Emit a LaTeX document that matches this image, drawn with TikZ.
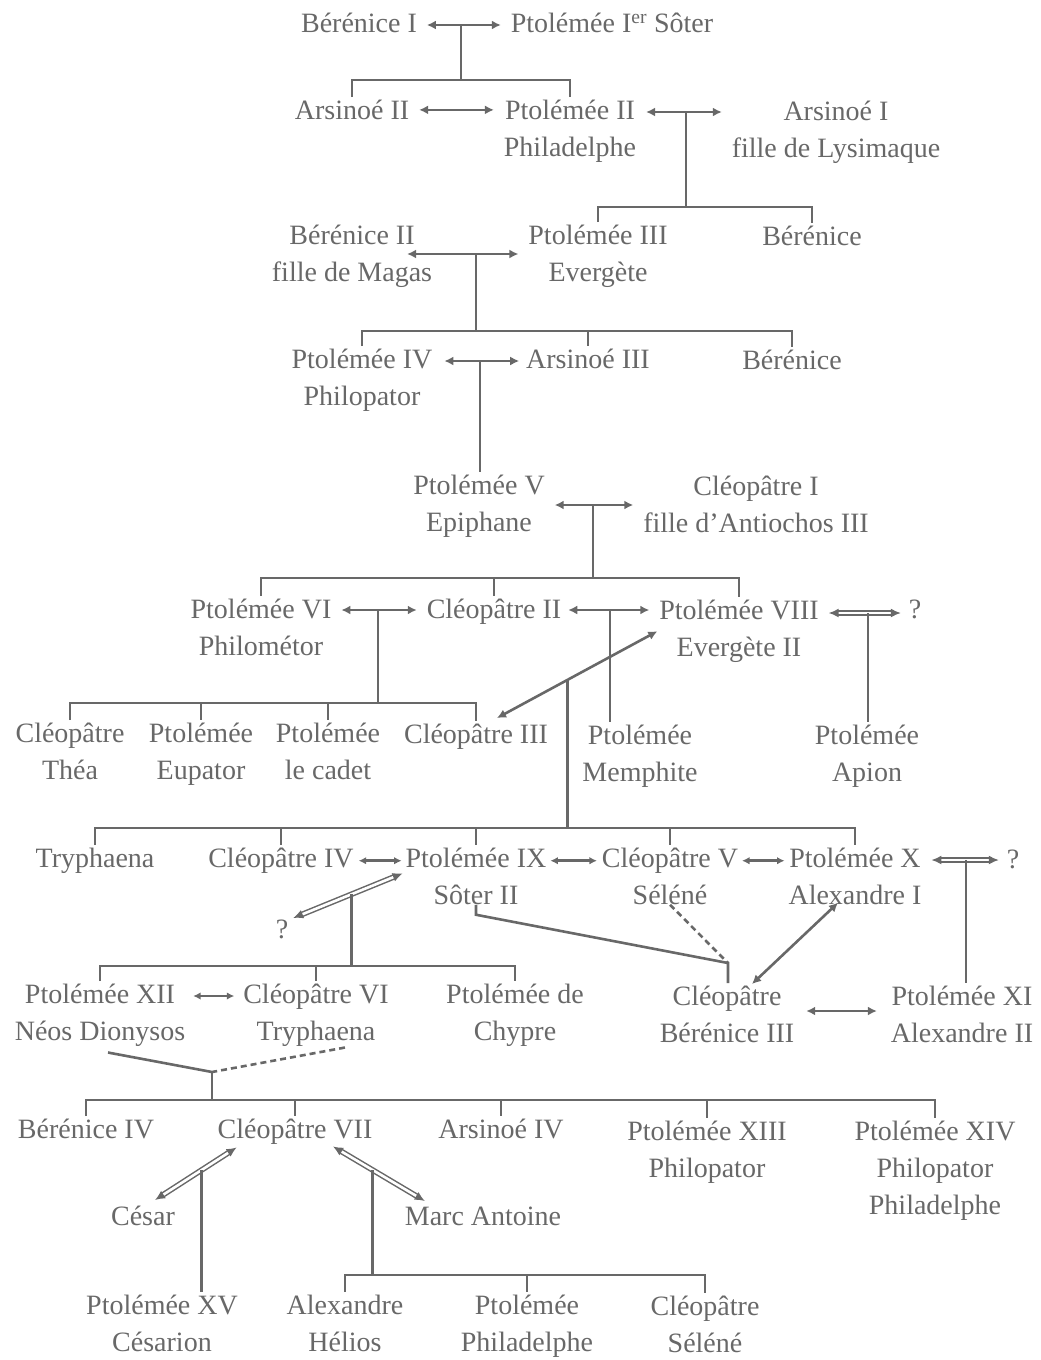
\documentclass[tikz,border=0pt]{standalone}
\usepackage{fontspec}
\setmainfont{Liberation Serif}
\usetikzlibrary{arrows.meta,calc}
\definecolor{ink}{HTML}{686868}
\begin{document}
\begin{tikzpicture}[x=1pt,y=-1pt,
  person/.style={inner sep=0pt, outer sep=0pt, align=center, anchor=north, text=ink, font=\fontsize{28}{37}\selectfont},
  famline/.style={draw=ink, line width=2.6pt},
  tickends/.style={famline, shorten <=3pt, shorten >=3pt},
  tickend/.style={famline, shorten >=3pt},
  marr/.style={famline, {Latex[length=9pt,width=9pt]}-{Latex[length=9pt,width=9pt]}},
  smallmarr/.style={famline, {Latex[length=7.5pt,width=7.5pt]}-{Latex[length=7.5pt,width=7.5pt]}},
  union/.style={draw=ink, line width=1.5pt, double=white, double distance=2.6pt, {Latex[length=10pt,width=9pt]}-{Latex[length=10pt,width=9pt]}},
  dashedline/.style={famline, dash pattern=on 6pt off 4pt}]
\useasboundingbox (0,0) rectangle (1041,1360);

% ---------- persons ----------
\node[person] (ber1) at (359,13) {Bérénice I};
\node[person] (pto1) at (612,13) {Ptolémée I\textsuperscript{er} Sôter};
\node[person] (ars2) at (352,100) {Arsinoé II};
\node[person] (pto2) at (570,100) {Ptolémée II\\Philadelphe};
\node[person] (ars1) at (836,101) {Arsinoé I\\fille de Lysimaque};
\node[person] (ber2) at (352,225) {Bérénice II\\fille de Magas};
\node[person] (pto3) at (598,225) {Ptolémée III\\Evergète};
\node[person] (bera) at (812,226) {Bérénice};
\node[person] (pto4) at (362,349) {Ptolémée IV\\Philopator};
\node[person] (ars3) at (588,349) {Arsinoé III};
\node[person] (berb) at (792,350) {Bérénice};
\node[person] (pto5) at (479,475) {Ptolémée V\\Epiphane};
\node[person] (cle1) at (756,476) {Cléopâtre I\\fille d’Antiochos III};
\node[person] (pto6) at (261,599) {Ptolémée VI\\Philométor};
\node[person] (cle2) at (494,599) {Cléopâtre II};
\node[person] (pto8) at (739,600) {Ptolémée VIII\\Evergète II};
\node[person] (q1) at (915,600) {?};
\node[person] (thea) at (70,723) {Cléopâtre\\Théa};
\node[person] (eup) at (201,723) {Ptolémée\\Eupator};
\node[person] (cadet) at (328,723) {Ptolémée\\le cadet};
\node[person] (cle3) at (476,724) {Cléopâtre III};
\node[person] (memph) at (640,725) {Ptolémée\\Memphite};
\node[person] (apion) at (867,725) {Ptolémée\\Apion};
\node[person] (tryph) at (95,848) {Tryphaena};
\node[person] (cle4) at (281,848) {Cléopâtre IV};
\node[person] (pto9) at (476,848) {Ptolémée IX\\Sôter II};
\node[person] (cle5) at (670,848) {Cléopâtre V\\Séléné};
\node[person] (pto10) at (855,848) {Ptolémée X\\Alexandre I};
\node[person] (q2) at (1013,850) {?};
\node[person] (q3) at (282,920) {?};
\node[person] (pto12) at (100,984) {Ptolémée XII\\Néos Dionysos};
\node[person] (cle6) at (316,984) {Cléopâtre VI\\Tryphaena};
\node[person] (chypre) at (515,984) {Ptolémée de\\Chypre};
\node[person] (bere3) at (727,986) {Cléopâtre\\Bérénice III};
\node[person] (pto11) at (962,986) {Ptolémée XI\\Alexandre II};
\node[person] (ber4) at (86,1119) {Bérénice IV};
\node[person] (cle7) at (295,1119) {Cléopâtre VII};
\node[person] (ars4) at (501,1119) {Arsinoé IV};
\node[person] (pto13) at (707,1121) {Ptolémée XIII\\Philopator};
\node[person] (pto14) at (935,1121) {Ptolémée XIV\\Philopator\\Philadelphe};
\node[person] (cesar) at (143,1206) {César};
\node[person] (marc) at (483,1207) {Marc Antoine};
\node[person] (pto15) at (162,1295) {Ptolémée XV\\Césarion};
\node[person] (alex) at (345,1295) {Alexandre\\Hélios};
\node[person] (ptophil) at (527,1295) {Ptolémée\\Philadelphe};
\node[person] (cle8) at (705,1296) {Cléopâtre\\Séléné};

% ---------- junction coordinates ----------
\coordinate (m1) at (461,25);   \coordinate (b1) at (461,80);
\coordinate (m2) at (686,112);  \coordinate (b2) at (686,207);
\coordinate (m3) at (476,254);  \coordinate (b3) at (476,331);
\coordinate (m4) at (480,361);
\coordinate (m5) at (593,505);  \coordinate (b5) at (593,578);
\coordinate (m6) at (378,610);  \coordinate (b6) at (378,703);
\coordinate (m7) at (610,610);
\coordinate (m8) at (868,613);
\coordinate (b9) at (566,828);
\coordinate (m10) at (966,860);
\coordinate (b11) at (343,966);
\coordinate (m12) at (728,963);
\coordinate (m13) at (840,1011);
\coordinate (y14) at (0,996);
\coordinate (m14) at (212,1072); \coordinate (b14) at (212,1100);
\coordinate (b16) at (370,1275);

% ---------- generation 1 ----------
\draw[marr] ($(ber1.east |- m1)+(10,0)$) -- ($(pto1.west |- m1)+(-10,0)$);
\draw[famline] (m1) -- (b1);
\draw[tickends] (ars2.north) |- (b1) -| (pto2.north);

% ---------- generation 2 ----------
\draw[marr] ($(ars2.east)+(10,0)$) -- ($(pto2.west |- ars2.east)+(-10,0)$);
\draw[marr] ($(pto2.east |- m2)+(10,0)$) -- ($(ars1.west |- m2)+(-10,0)$);
\draw[famline] (m2) -- (b2);
\draw[tickends] (pto3.north) |- (b2) -| (bera.north);

% ---------- generation 3 ----------
\draw[marr] ($(ber2.east |- m3)+(-25,0)$) -- ($(pto3.west |- m3)+(-10,0)$);
\draw[famline] (m3) -- (b3);
\draw[tickends] (pto4.north) |- (b3) -| (berb.north);
\draw[tickend] (ars3.north |- b3) -- (ars3.north);

% ---------- generation 4 ----------
\draw[marr] ($(pto4.east |- m4)+(12,0)$) -- ($(ars3.west |- m4)+(-7,0)$);
\draw[tickend] (m4) -- (m4 |- pto5.north);

% ---------- generation 5 ----------
\draw[marr] ($(pto5.east |- m5)+(10,0)$) -- ($(cle1.west |- m5)+(-10,0)$);
\draw[famline] (m5) -- (b5);
\draw[tickends] (pto6.north) |- (b5) -| (pto8.north);
\draw[tickend] (cle2.north |- b5) -- (cle2.north);

% ---------- generation 6 ----------
\draw[marr] ($(pto6.east |- m6)+(10,0)$) -- ($(cle2.west |- m6)+(-10,0)$);
\draw[famline] (m6) -- (b6);
\draw[tickends] (thea.north) |- (b6) -| (cle3.north);
\draw[tickend] (eup.north |- b6) -- (eup.north);
\draw[tickend] (cadet.north |- b6) -- (cadet.north);

\draw[marr] ($(cle2.east |- m7)+(7,0)$) -- ($(pto8.west |- m7)+(-10,0)$);
\draw[tickend] (m7) -- (m7 |- memph.north);

\draw[union] ($(pto8.east |- m8)+(10,0)$) -- ($(q1.west |- m8)+(-8,0)$);
\draw[tickend] (m8) -- (m8 |- apion.north);

\draw[marr] ($(cle3.north)+(21,-6)$) -- coordinate[pos=0.44] (m9) ($(pto8.west)+(-2,0)$);
\draw[famline] (m9) -- (m9 |- b9);
\draw[tickends] (tryph.north) |- (b9) -| (pto10.north);
\draw[tickend] (cle4.north |- b9) -- (cle4.north);
\draw[tickend] (pto9.north |- b9) -- (pto9.north);
\draw[tickend] (cle5.north |- b9) -- (cle5.north);

% ---------- generation 8 ----------
\draw[smallmarr] ($(cle4.east)+(5,0)$) -- ($(pto9.west |- cle4.east)+(-4,0)$);
\draw[smallmarr] ($(pto9.east |- cle4.east)+(4,0)$) -- ($(cle5.west |- cle4.east)+(-5,0)$);
\draw[smallmarr] ($(cle5.east |- cle4.east)+(4,0)$) -- ($(pto10.west |- cle4.east)+(-4,0)$);

\draw[union] ($(pto10.east |- m10)+(10,0)$) -- ($(q2.west |- m10)+(-8,0)$);
\draw[tickend] (m10) -- (m10 |- pto11.north);

\draw[union] ($(pto9.west)+(-3,-3)$) -- coordinate[pos=0.47] (m11) ($(q3.north east)+(5,-2)$);
\draw[famline] (m11) -- (m11 |- b11);
\draw[tickends] (pto12.north) |- (b11) -| (chypre.north);
\draw[tickend] (cle6.north |- b11) -- (cle6.north);

\draw[famline, shorten >=3pt] (pto9.south) -- ++(0,10) -- (m12) -- (m12 |- bere3.north);
\draw[dashedline] (cle5.south) -- (m12);
\draw[marr] ($(pto10.south)+(-17,-2)$) -- ($(bere3.north)+(25,-2)$);

% ---------- generation 9 ----------
\draw[marr] ($(bere3.east |- m13)+(12,0)$) -- ($(pto11.west |- m13)+(-14,0)$);
\draw[smallmarr] ($(pto12.east |- y14)+(8,0)$) -- ($(cle6.west |- y14)+(-9,0)$);
\draw[famline] ($(pto12.south)+(8,6)$) -- (m14);
\draw[dashedline] ($(cle6.south)+(29,1)$) -- (m14);
\draw[famline] (m14) -- (b14);
\draw[tickends] (ber4.north) |- (b14) -| (pto14.north);
\draw[tickend] (cle7.north |- b14) -- (cle7.north);
\draw[tickend] (ars4.north |- b14) -- (ars4.north);
\draw[tickend] (pto13.north |- b14) -- (pto13.north);

% ---------- generation 10 ----------
\draw[union] ($(cle7.south west)+(19,3)$) -- coordinate[pos=0.43] (m15) ($(cesar.north)+(12,-6)$);
\draw[tickend] (m15) -- (m15 |- pto15.north);
\draw[union] ($(cle7.south)+(38,2)$) -- coordinate[pos=0.43] (m16) ($(marc.north west)+(20,-6)$);
\draw[famline] (m16) -- (m16 |- b16);
\draw[tickends] (alex.north) |- (b16) -| (cle8.north);
\draw[tickend] (ptophil.north |- b16) -- (ptophil.north);
\end{tikzpicture}
\end{document}
